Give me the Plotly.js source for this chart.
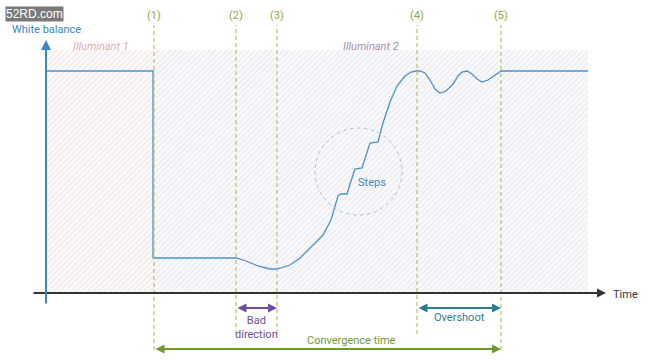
<!DOCTYPE html>
<html>
<head>
<meta charset="utf-8">
<script src="https://cdn.plot.ly/plotly-3.0.1.min.js"></script>
<style>html,body{margin:0;padding:0;background:#fff;}#chart{width:650px;height:361px;}</style>
</head>
<body>
<div id="chart"></div>
<script>
// Conceptual white balance response over time (arbitrary units)
const time = [0, 107, 107, 190, 200, 212, 224, 231, 244, 254, 264, 277, 285, 288, 292, 295, 301, 305, 309, 316, 320, 324, 332, 337, 344, 351, 359, 365, 370, 374, 379, 384, 389, 394, 400, 407, 412, 416, 421, 426, 431, 436, 442, 448, 455, 542];
const whiteBalance = [222, 222, 35, 35, 32, 27, 24, 24, 28, 35, 45, 58, 73, 83, 97, 99, 99, 112, 124, 125, 138, 150, 151, 170, 191, 207, 217, 221, 222, 222, 220, 213, 204, 200, 202, 209, 217, 221, 222, 219, 214, 211, 213, 217, 222, 222];

const regionNames = ['Illuminant 1', 'Illuminant 2'];
const regionStart = [0, 107];
const regionEnd = [107, 542];
const regionTop = 243;

const markerTimes = [108, 190, 231, 371, 455];
const markerLabels = ['(1)', '(2)', '(3)', '(4)', '(5)'];
const markerBottoms = [-57, -41, -41, -41, -57];

const intervals = [
  {label: 'Bad<br>direction', from: 190, to: 231},
  {label: 'Overshoot', from: 371, to: 455},
  {label: 'Convergence time', from: 108, to: 455}
];

const traces = [];
const hatchFg = ['#f1e6e6', '#e9e9ef'];
const hatchBg = ['#fdfafa', '#fafafc'];
for (let i = 0; i < regionNames.length; i++) {
  traces.push({
    type: 'bar',
    x: [(regionStart[i] + regionEnd[i]) / 2],
    width: [regionEnd[i] - regionStart[i]],
    y: [regionTop],
    base: [0],
    marker: {color: hatchBg[i], line: {width: 0},
      pattern: {shape: '/', fgcolor: hatchFg[i], bgcolor: hatchBg[i], size: 4, solidity: 0.3}},
    hoverinfo: 'skip', showlegend: false
  });
}
traces.push({
  type: 'scatter', mode: 'lines', x: time, y: whiteBalance,
  line: {color: '#4a92cc', width: 1.3}, hoverinfo: 'skip', showlegend: false
});

const shapes = [];
const annotations = [];
markerTimes.forEach((t, i) => {
  shapes.push({type: 'line', xref: 'x', yref: 'y', x0: t, x1: t, y0: markerBottoms[i], y1: 268,
    line: {color: '#bcc060', width: 1.2, dash: '4px,3px'}});
  annotations.push({xref: 'x', yref: 'y', x: t, y: 278, text: markerLabels[i], showarrow: false,
    font: {family: 'Roboto', size: 11, color: '#8fa545'}});
});
// Steps circle
shapes.push({type: 'circle', xref: 'x', yref: 'y', x0: 269, x1: 356, y0: 78, y1: 165,
  line: {color: '#adc2d2', width: 1, dash: '4px,3px'}});

// axes arrows
annotations.push({xref: 'x', yref: 'y', axref: 'x', ayref: 'y', x: 560, y: 0, ax: -14, ay: 0, text: '',
  showarrow: true, arrowhead: 2, arrowsize: 1, arrowwidth: 1.8, arrowcolor: '#333333'});
annotations.push({xref: 'x', yref: 'y', axref: 'x', ayref: 'y', x: 0, y: 253, ax: 0, ay: -12, text: '',
  showarrow: true, arrowhead: 2, arrowsize: 1, arrowwidth: 2, arrowcolor: '#3a86c8'});

const intervalColors = ['#6a4f9c', '#2c7c8e', '#6f9a2e'];
const intervalArrowY = [-15, -15, -56];
const intervalTextY = [-34, -24, -47];
const intervalTextShift = [0, 0, 24];
intervals.forEach((iv, i) => {
  annotations.push({xref: 'x', yref: 'y', axref: 'x', ayref: 'y', x: iv.to, y: intervalArrowY[i],
    ax: iv.from, ay: intervalArrowY[i], text: '', showarrow: true, arrowside: 'end+start',
    arrowhead: 2, startarrowhead: 2, arrowsize: 1, startarrowsize: 1, arrowwidth: 1.8, arrowcolor: intervalColors[i]});
  annotations.push({xref: 'x', yref: 'y', x: (iv.from + iv.to) / 2 + intervalTextShift[i], y: intervalTextY[i], text: iv.label,
    showarrow: false, font: {family: 'Roboto', size: 11, color: intervalColors[i]}});
});

annotations.push({xref: 'paper', yref: 'paper', x: 34 / 650, y: 1 - 14 / 361, xanchor: 'center', yanchor: 'middle',
  text: '52RD.com', showarrow: false, bgcolor: '#7a7a7a', borderpad: 0,
  font: {family: 'Liberation Sans', size: 12, color: '#ffffff'}});
annotations.push({xref: 'x', yref: 'y', x: 0, y: 264, text: 'White balance', showarrow: false,
  font: {family: 'Roboto', size: 11, color: '#3a86c8'}});
annotations.push({xref: 'x', yref: 'y', x: 579, y: -1, text: 'Time', showarrow: false,
  font: {family: 'Roboto', size: 11, color: '#333333'}});
annotations.push({xref: 'x', yref: 'y', x: 55, y: 247, text: '<i>' + regionNames[0] + '</i>', showarrow: false,
  font: {family: 'Roboto', size: 11, color: '#d9aeae'}});
annotations.push({xref: 'x', yref: 'y', x: 325, y: 247, text: '<i>' + regionNames[1] + '</i>', showarrow: false,
  font: {family: 'Roboto', size: 11, color: '#a68cb6'}});
annotations.push({xref: 'x', yref: 'y', x: 326, y: 111, text: 'Steps', showarrow: false,
  font: {family: 'Roboto', size: 11, color: '#3a8ac8'}});

const layout = {
  width: 650, height: 361,
  margin: {l: 0, r: 0, t: 0, b: 0},
  paper_bgcolor: '#ffffff', plot_bgcolor: '#ffffff',
  barmode: 'overlay', bargap: 0,
  xaxis: {range: [-46, 604], visible: false, fixedrange: true},
  yaxis: {range: [-68, 293], visible: false, fixedrange: true},
  shapes: shapes, annotations: annotations, showlegend: false
};
Plotly.newPlot('chart', traces, layout, {staticPlot: true, displayModeBar: false});
</script>
</body>
</html>
